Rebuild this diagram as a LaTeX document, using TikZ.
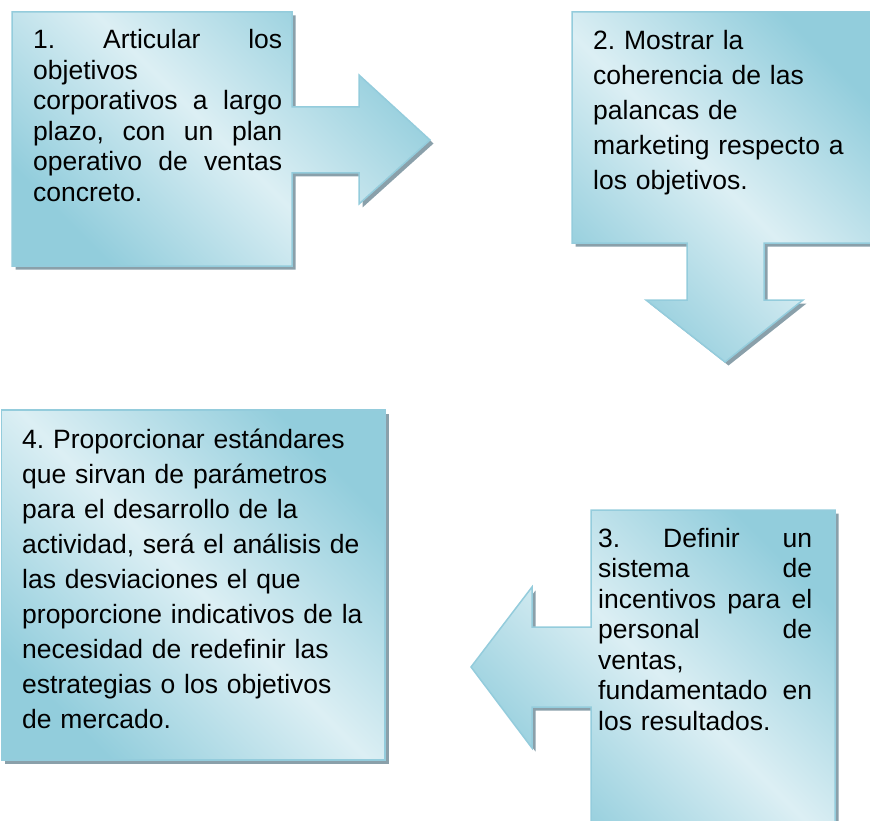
\documentclass[tikz,border=0pt]{standalone}
\usepackage{fontspec}
\setmainfont{Liberation Sans}
\usetikzlibrary{shadows}

\definecolor{aquadark}{RGB}{146,205,220}
\definecolor{aqualight}{RGB}{220,239,244}
\definecolor{aquaedge}{RGB}{148,204,220}
\definecolor{shadowgray}{RGB}{138,160,170}

\frenchspacing

\begin{document}
\begin{tikzpicture}[
        x=1pt, y=-1pt,
        callout/.style={draw=aquaedge, line width=1.5pt, line join=miter,
            left color=aquadark, right color=aquadark, middle color=aqualight, shading angle=-45,
            drop shadow={shadow xshift=3.5pt, shadow yshift=-3.5pt, fill=shadowgray, opacity=1}},
        steptext/.style={anchor=base west, inner sep=0pt, align=left, font=\fontsize{26.5}{30.5}\selectfont},
        widetext/.style={anchor=base west, inner sep=0pt, align=left, font=\fontsize{26.5}{35}\selectfont},
        ]
        \useasboundingbox (0,0) rectangle (870,821);

        % Step 1: box with arrow to the right
        \path[callout] (12,12) -- (292,12) -- (292,107) -- (359,107) -- (359,75) -- (430,140)
            -- (359,204) -- (359,173) -- (292,173) -- (292,266) -- (12,266) -- cycle;
        % Step 2: box with arrow down
        \path[callout] (572,12) -- (878,12) -- (878,243) -- (764,243) -- (764,300) -- (803,300)
            -- (725,362) -- (646,300) -- (687,300) -- (687,243) -- (572,243) -- cycle;
        % Step 3: box with arrow to the left
        \path[callout] (591,510) -- (835,510) -- (835,826) -- (591,826) -- (591,707) -- (532,707)
            -- (532,748) -- (471,667) -- (532,587) -- (532,627) -- (591,627) -- cycle;
        % Step 4: plain box
        \path[callout] (1.5,410) -- (385,410) -- (385,760) -- (1.5,760) -- cycle;

        % Texts
        \node[steptext, text width=249] (t1) at (33,49)
            {1.\hfill Articular\hfill los\\
             objetivos\\
             corporativos\hfill a\hfill largo\\
             plazo,\hfill con\hfill un\hfill plan\\
             operativo\hfill de\hfill ventas\\
             concreto.};
        \node[widetext, text width=270] (t2) at (593,50)
            {2. Mostrar la\\
             coherencia de las\\
             palancas de\\
             marketing respecto a\\
             los objetivos.};
        \node[steptext, text width=214] (t3) at (598,547)
            {3.\hfill Definir\hfill un\\
             sistema\hfill de\\
             incentivos\hfill para\hfill el\\
             personal\hfill de\\
             ventas,\\
             fundamentado\hfill en\\
             los resultados.};
        \node[widetext, text width=360] (t4) at (22,448)
            {4. Proporcionar estándares\\
             que sirvan de parámetros\\
             para el desarrollo de la\\
             actividad, será el análisis de\\
             las desviaciones el que\\
             proporcione indicativos de la\\
             necesidad de redefinir las\\
             estrategias o los objetivos\\
             de mercado.};

    \end{tikzpicture}
\end{document}
